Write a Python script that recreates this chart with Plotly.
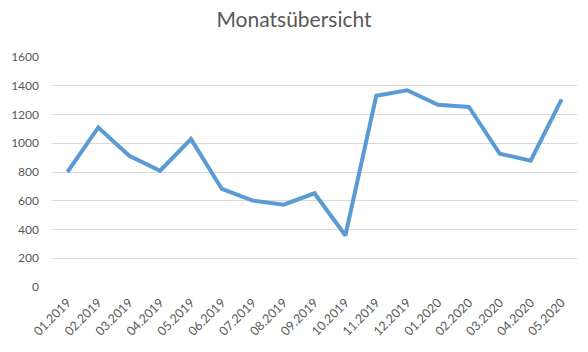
import plotly.graph_objects as go

months = ["01.2019", "02.2019", "03.2019", "04.2019", "05.2019", "06.2019", "07.2019",
          "08.2019", "09.2019", "10.2019", "11.2019", "12.2019", "01.2020", "02.2020",
          "03.2020", "04.2020", "05.2020"]
values = [800, 1110, 913, 809, 1029, 682, 601, 573, 652, 358, 1330, 1369, 1267, 1253,
          927, 879, 1305]
y_ticks = [0, 200, 400, 600, 800, 1000, 1200, 1400, 1600]

fig = go.Figure()
fig.add_trace(go.Scatter(
    x=months, y=values, mode="lines",
    line=dict(color="#5B9BD5", width=4),
    showlegend=False,
))

font = "Lato, 'Open Sans', sans-serif"
fig.update_layout(
    width=588, height=352,
    margin=dict(l=50, r=11, t=57, b=65),
    paper_bgcolor="white", plot_bgcolor="white",
    title=dict(text="Monatsübersicht", x=0.5, xanchor="center", y=0.945, yanchor="middle",
               font=dict(family=font, size=21, color="#595959")),
    font=dict(family=font, color="#595959", size=12),
)
fig.update_xaxes(
    type="category", range=[-0.5, len(months) - 0.5],
    tickangle=-45, showgrid=False, showline=False, zeroline=False,
    ticklabelstandoff=5,
    tickfont=dict(size=12.5, color="#595959"),
)
fig.update_yaxes(
    range=[0, 1600], tickvals=y_ticks, showgrid=True, gridcolor="#D9D9D9", gridwidth=1,
    zeroline=False, showline=False, ticklabelstandoff=12,
    tickfont=dict(size=12, color="#595959"),
)
fig.write_html("out.html")
